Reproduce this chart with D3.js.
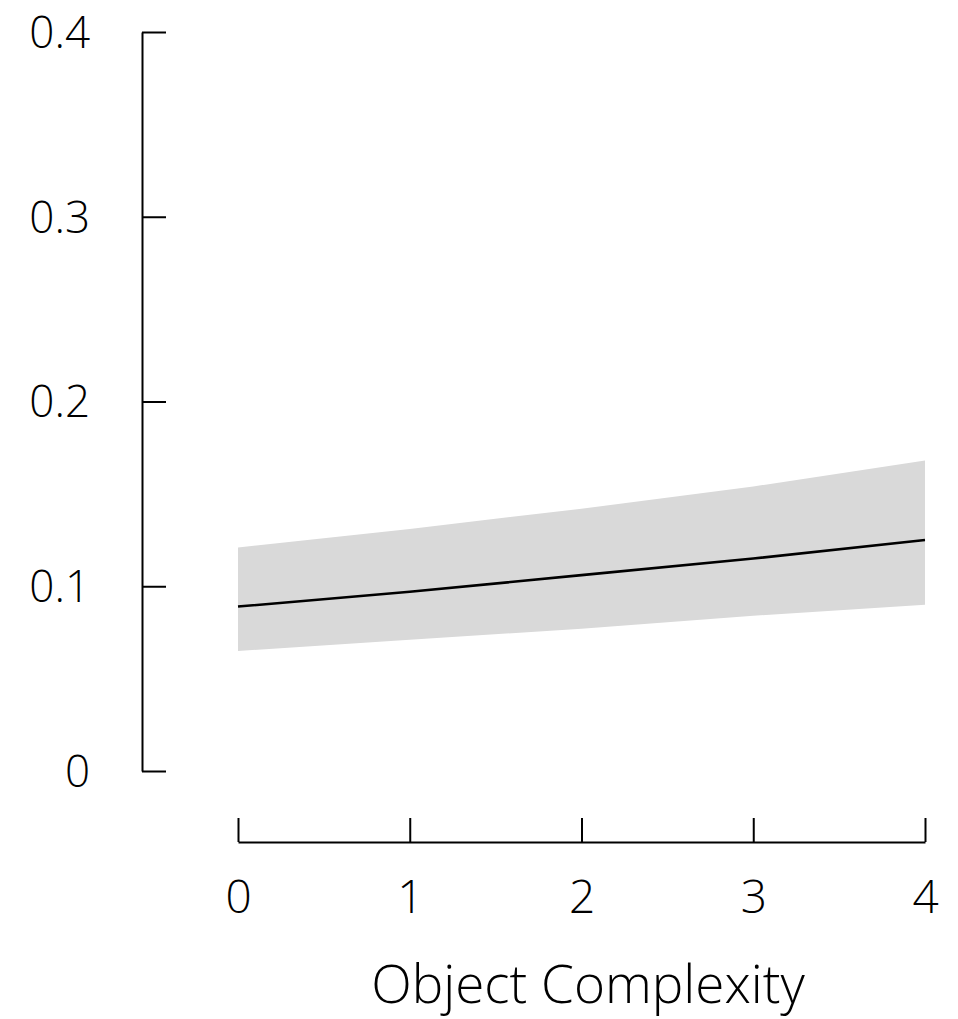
<!DOCTYPE html>
<html>
<head>
<meta charset="utf-8">
<script src="https://cdn.jsdelivr.net/npm/d3@7"></script>
<style>
  html, body { margin: 0; padding: 0; background: #fff; }
  svg { display: block; }
  text { font-family: "Open Sans", sans-serif; font-weight: 300; fill: #000; }
</style>
</head>
<body>
<svg id="chart" width="958" height="1019"></svg>
<script>
// Data
const complexity = [0, 1, 2, 3, 4];
const estimate   = [0.089, 0.097, 0.106, 0.115, 0.125];
const upperCI    = [0.121, 0.131, 0.142, 0.154, 0.168];
const lowerCI    = [0.065, 0.071, 0.077, 0.084, 0.090];
const yTicks = [0, 0.1, 0.2, 0.3, 0.4];
const yTickLabels = ["0", "0.1", "0.2", "0.3", "0.4"];
const xTicks = [0, 1, 2, 3, 4];
const xTickLabels = ["0", "1", "2", "3", "4"];
const xTitle = "Object Complexity";

const rows = complexity.map((c, i) => ({ x: c, y: estimate[i], lo: lowerCI[i], hi: upperCI[i] }));

const svg = d3.select("#chart");
const x = d3.scaleLinear().domain([0, 4]).range([238, 925]);
const y = d3.scaleLinear().domain([0, 0.4]).range([771, 32]);

// band
svg.append("path")
  .datum(rows)
  .attr("fill", "#d9d9d9")
  .attr("d", d3.area().x(d => x(d.x)).y0(d => y(d.lo)).y1(d => y(d.hi)));

// line
svg.append("path")
  .datum(rows)
  .attr("fill", "none")
  .attr("stroke", "#000")
  .attr("stroke-width", 2.6)
  .attr("d", d3.line().x(d => x(d.x)).y(d => y(d.y)));

// y axis (ticks point right)
const yAxis = svg.append("g")
  .attr("transform", "translate(142,0)")
  .call(d3.axisRight(y).tickValues(yTicks).tickSize(24).tickSizeOuter(0)
        .tickFormat((d, i) => yTickLabels[i]));
yAxis.selectAll("path.domain").attr("stroke", "#000").attr("stroke-width", 2);
yAxis.selectAll(".tick line").attr("stroke", "#000").attr("stroke-width", 2);
yAxis.selectAll(".tick text")
  .attr("x", -52).attr("dy", "0.35em")
  .attr("text-anchor", "end")
  .style("font-size", "44px")
  .style("font-family", "'Open Sans', sans-serif")
  .style("font-weight", 300);

// x axis (ticks point up)
const xAxis = svg.append("g")
  .attr("transform", "translate(0,842)")
  .call(d3.axisTop(x).tickValues(xTicks).tickSize(24).tickSizeOuter(0)
        .tickFormat((d, i) => xTickLabels[i]));
xAxis.selectAll("path.domain").attr("stroke", "#000").attr("stroke-width", 2);
xAxis.selectAll(".tick line").attr("stroke", "#000").attr("stroke-width", 2);
xAxis.selectAll(".tick text")
  .attr("y", 71).attr("dy", 0)
  .attr("text-anchor", "middle")
  .style("font-size", "46px")
  .style("font-family", "'Open Sans', sans-serif")
  .style("font-weight", 300);
svg.selectAll(".domain").attr("fill", "none");

// x title
svg.append("text")
  .attr("x", 588).attr("y", 1003)
  .attr("text-anchor", "middle")
  .style("font-size", "53px")
  .text(xTitle);
</script>
</body>
</html>
